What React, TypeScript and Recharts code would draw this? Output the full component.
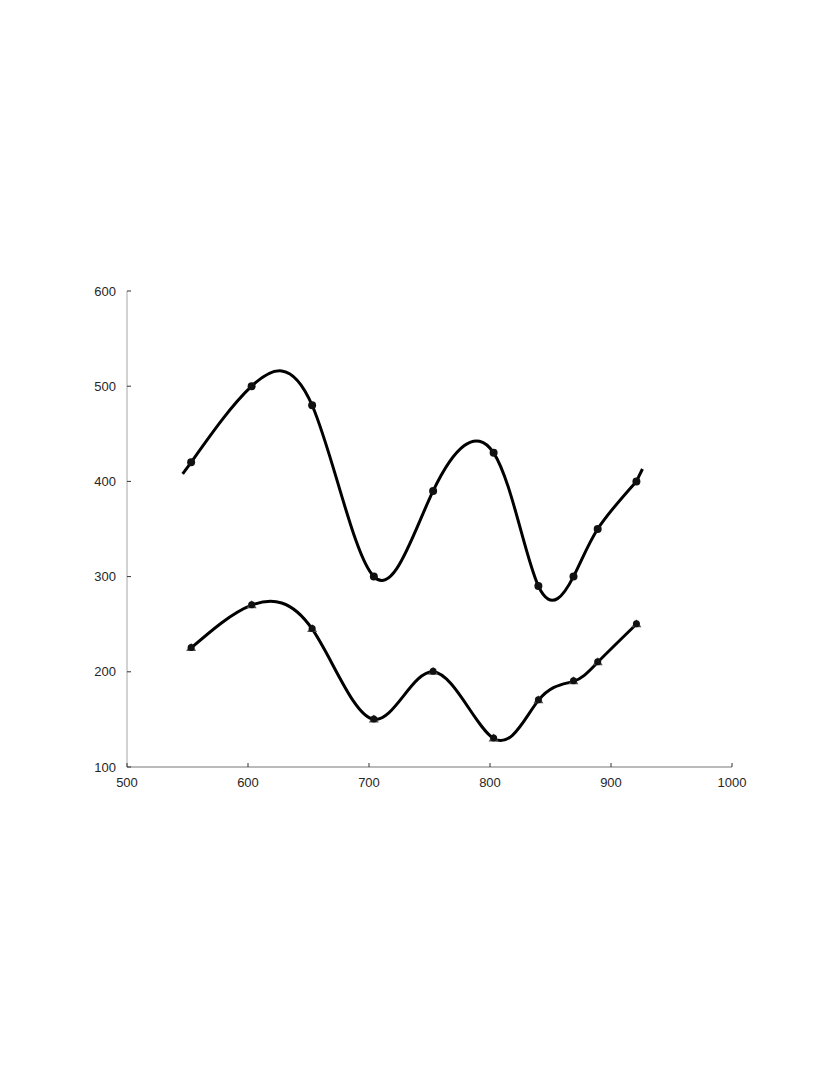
import { ComposedChart, Line, XAxis, YAxis } from "recharts";

const xValues = [553, 603, 653, 704, 753, 803, 840, 869, 889, 921];
const upperSeries = [420, 500, 480, 300, 390, 430, 290, 300, 350, 400];
const lowerSeries = [225, 270, 245, 150, 200, 130, 170, 190, 210, 250];

// short extrapolated ends of the upper curve
const upperHead = [
  { x: 546, y: 408 },
  { x: 553, y: 420 },
];
const upperTail = [
  { x: 921, y: 400 },
  { x: 926, y: 413 },
];

const xTicks = [500, 600, 700, 800, 900, 1000];
const yTicks = [100, 200, 300, 400, 500, 600];

const rows = xValues.map((x, i) => ({ x, upper: upperSeries[i], lower: lowerSeries[i] }));

const FONT = "'Liberation Sans', Arial, sans-serif";
const LABEL = "#262626";
const MARGIN_TICK = 10;

function XTick({ x, y, payload }: any) {
  const axisY = y - MARGIN_TICK;
  return (
    <g>
      <line x1={x} y1={axisY} x2={x} y2={axisY - 4} stroke="#333" strokeWidth={1} />
      <text x={x} y={y} dy="0.75em" textAnchor="middle" fill={LABEL} fontSize={13} fontFamily={FONT}>
        {payload.value}
      </text>
    </g>
  );
}

function YTick({ x, y, payload }: any) {
  const axisX = x + MARGIN_TICK;
  return (
    <g>
      <line x1={axisX} y1={y} x2={axisX + 4} y2={y} stroke="#333" strokeWidth={1} />
      <text x={x - 1} y={y} dy="0.35em" textAnchor="end" fill={LABEL} fontSize={13} fontFamily={FONT}>
        {payload.value}
      </text>
    </g>
  );
}

function CircleDot({ cx, cy }: any) {
  if (cx == null || cy == null) return null;
  return <circle cx={cx} cy={cy} r={4} fill="#111" />;
}

function TriDot({ cx, cy }: any) {
  if (cx == null || cy == null) return null;
  return (
    <g>
      <path d={`M${cx - 5},${cy + 3} L${cx + 5},${cy + 3} L${cx},${cy - 5} Z`} fill="#555" />
      <circle cx={cx} cy={cy - 0.5} r={3.5} fill="#111" />
    </g>
  );
}

export default function App() {
  return (
    <div style={{ position: "absolute", left: 0, top: 0, width: 830, height: 1075, background: "#fff" }}>
      <ComposedChart
        width={830}
        height={1075}
        data={rows}
        margin={{ top: 291, right: 98, bottom: 278, left: 87 }}
      >
        <XAxis
          type="number"
          dataKey="x"
          domain={[500, 1000]}
          ticks={xTicks}
          height={30}
          tickSize={0}
          tickMargin={MARGIN_TICK}
          tick={<XTick />}
          axisLine={{ stroke: "#777", strokeWidth: 1 }}
          allowDataOverflow
        />
        <YAxis
          type="number"
          domain={[100, 600]}
          ticks={yTicks}
          width={40}
          tickSize={0}
          tickMargin={MARGIN_TICK}
          tick={<YTick />}
          axisLine={{ stroke: "#a6a6a6", strokeWidth: 1 }}
          allowDataOverflow
        />
        <Line
          data={upperHead}
          dataKey="y"
          type="linear"
          stroke="#000"
          strokeWidth={3}
          dot={false}
          activeDot={false}
          isAnimationActive={false}
        />
        <Line
          data={upperTail}
          dataKey="y"
          type="linear"
          stroke="#000"
          strokeWidth={3}
          dot={false}
          activeDot={false}
          isAnimationActive={false}
        />
        <Line
          dataKey="upper"
          type="natural"
          stroke="#000"
          strokeWidth={3}
          dot={<CircleDot />}
          activeDot={false}
          isAnimationActive={false}
        />
        <Line
          dataKey="lower"
          type="natural"
          stroke="#000"
          strokeWidth={3}
          dot={<TriDot />}
          activeDot={false}
          isAnimationActive={false}
        />
      </ComposedChart>
    </div>
  );
}
